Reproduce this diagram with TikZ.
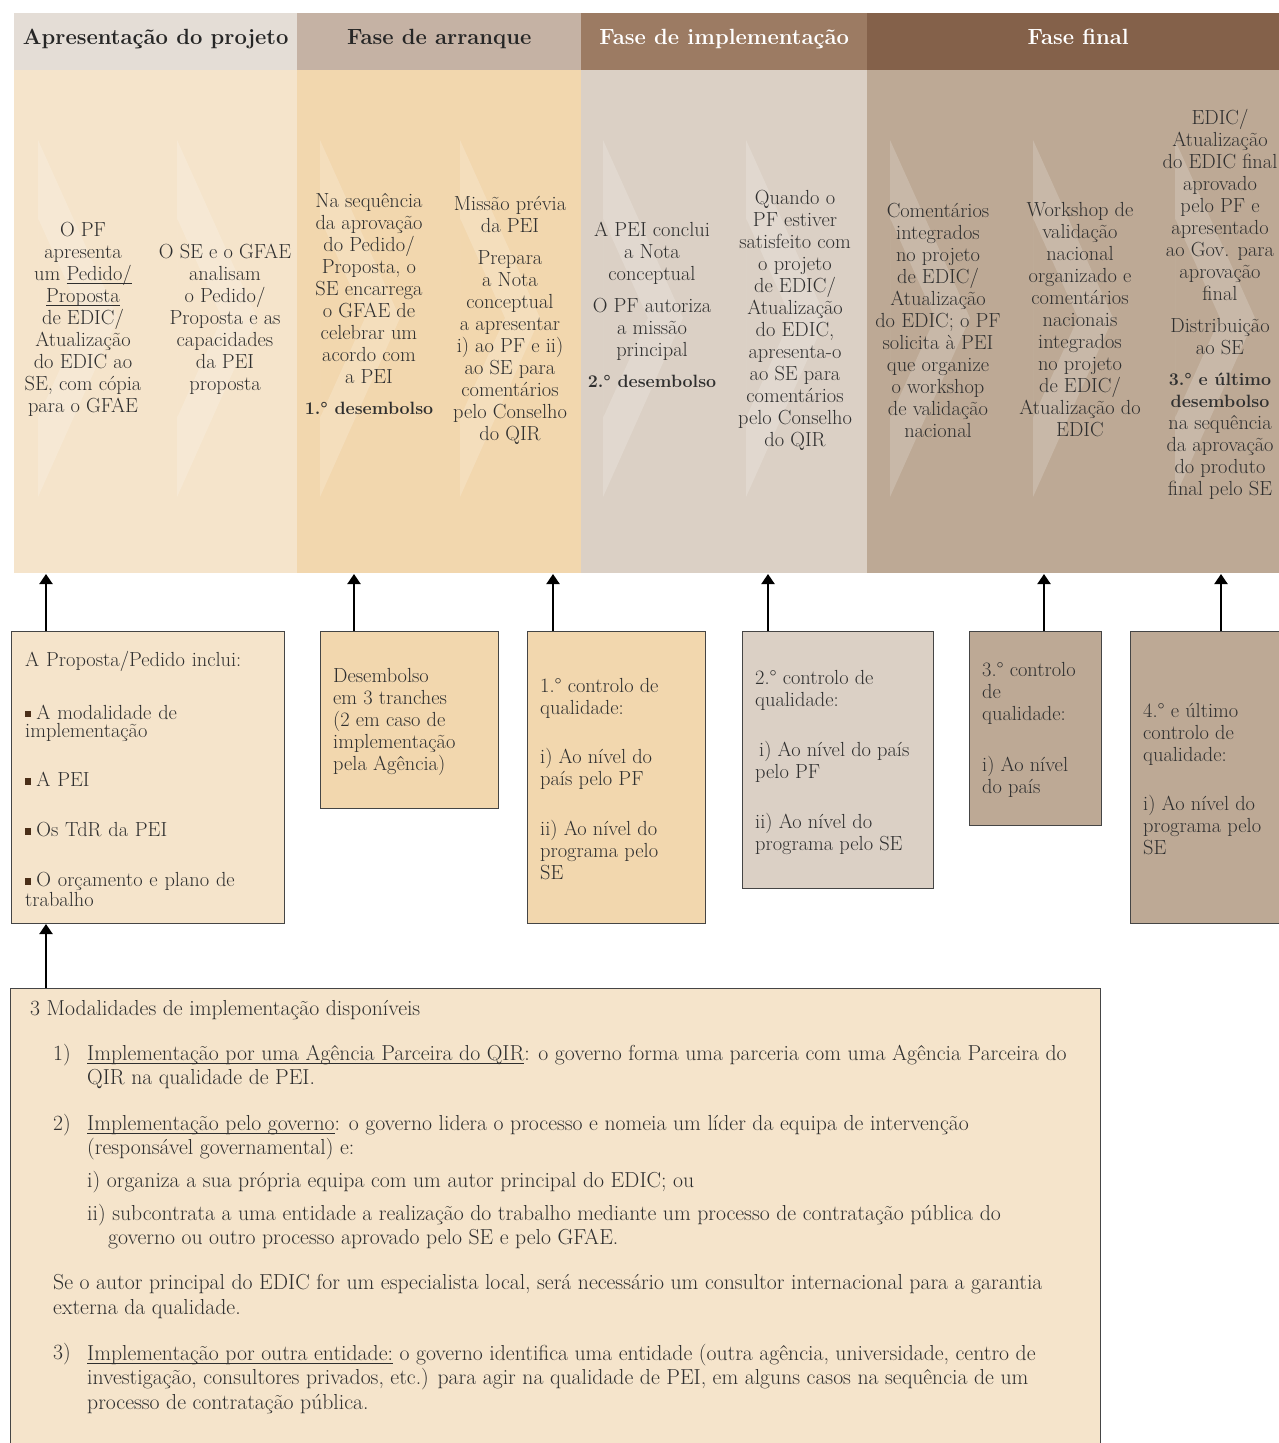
\documentclass[tikz,border=0pt]{standalone}
\usetikzlibrary{arrows.meta}
\definecolor{hA}{HTML}{E4DDD6}
\definecolor{hB}{HTML}{C5B2A4}
\definecolor{hC}{HTML}{9C7B63}
\definecolor{hD}{HTML}{84614A}
\definecolor{pA}{HTML}{F5E4CB}
\definecolor{pB}{HTML}{F2D7AE}
\definecolor{pC}{HTML}{DBD0C5}
\definecolor{pD}{HTML}{BDA995}
\definecolor{tx}{HTML}{2F2F2F}
\definecolor{hdk}{HTML}{262626}
\definecolor{bord}{HTML}{454545}
\definecolor{bul}{HTML}{4A2E18}
\newcommand{\bulsq}{\textcolor{bul}{\rule[0.12em]{0.3em}{0.3em}}\hspace{0.25em}}
\newcommand{\myul}[1]{\begingroup\setbox0\hbox{#1}\rlap{\rule[-3.5pt]{\wd0}{0.9pt}}\box0\endgroup}
\newcommand{\bd}[1]{{\fontsize{17.8}{22}\selectfont\bfseries #1}}
\begin{document}
\begin{tikzpicture}[x=1pt,y=-1pt,
  hdr/.style={anchor=north west,minimum height=57pt,inner sep=0pt,text height=0.72em,text depth=0.22em,font=\fontsize{22}{26}\selectfont\bfseries},
  ptxt/.style={align=center,inner sep=0pt,text=tx,font=\fontsize{20.4}{22}\selectfont},
  bx/.style={draw=bord,line width=1.3pt,anchor=north west,inner sep=0pt},
  btxt/.style={align=left,anchor=west,inner sep=0pt,text=tx,font=\fontsize{20.4}{22}\selectfont},
  ltxt/.style={align=left,anchor=west,inner sep=0pt,text=tx,font=\fontsize{21.7}{24.7}\selectfont},
  arr/.style={line width=2pt,draw=black,-{Triangle[width=13pt,length=10pt]}}]
\clip (0,0) rectangle (1279,1443);
\fill[white] (0,0) rectangle (1279,1443);
% headers
\node[hdr,fill=hA,minimum width=283pt,text=hdk] (hd1) at (14,13) {Apresentação do projeto};
\node[hdr,fill=hB,minimum width=284pt,text=hdk] (hd2) at (297,13) {Fase de arranque};
\node[hdr,fill=hC,minimum width=286pt,text=white] (hd3) at (581,13) {Fase de implementação};
\node[hdr,fill=hD,minimum width=422pt,text=white] (hd4) at (867,13) {Fase final};
% panels
\fill[pA] (14,70) rectangle (297,573);
\fill[pB] (297,70) rectangle (581,573);
\fill[pC] (581,70) rectangle (867,573);
\fill[pD] (867,70) rectangle (1279,573);
% chevrons
\foreach \cx in {38,177,320,460,603,746,890,1033,1175}{
  \fill[white,opacity=0.18,even odd rule] (\cx,140)--(\cx+80,318)--(\cx,497)--cycle (\cx,218)--(\cx+45,318)--(\cx,418)--cycle;
}
% panel texts
\node[ptxt] (c1) at (83,319) {O PF\\apresenta\\um \myul{Pedido/}\\\myul{Proposta}\\de EDIC/\\Atualização\\do EDIC ao\\SE, com cópia\\para o GFAE};
\node[ptxt] (c2) at (225,319) {O SE e o GFAE\\analisam\\o Pedido/\\Proposta e as\\capacidades\\da PEI\\proposta};
\node[ptxt] (c3) at (369,304) {Na sequência\\da aprovação\\do Pedido/\\Proposta, o\\SE encarrega\\o GFAE de\\celebrar um\\acordo com\\a PEI\\[9pt]\bd{1.° desembolso}};
\node[ptxt] (c4) at (510,320) {Missão prévia\\da PEI\\[10pt]Prepara\\a Nota\\conceptual\\a apresentar\\i) ao PF e ii)\\ao SE para\\comentários\\pelo Conselho\\do QIR};
\node[ptxt] (c5) at (652,304.5) {A PEI conclui\\a Nota\\conceptual\\[10pt]O PF autoriza\\a missão\\principal\\[9pt]\bd{2.° desembolso}};
\node[ptxt] (c6) at (795,320) {Quando o\\PF estiver\\satisfeito com\\o projeto\\de EDIC/\\Atualização\\do EDIC,\\apresenta-o\\ao SE para\\comentários\\pelo Conselho\\do QIR};
\node[ptxt] (c7) at (938,320) {Comentários\\integrados\\no projeto\\de EDIC/\\Atualização\\do EDIC; o PF\\solicita à PEI\\que organize\\o workshop\\de validação\\nacional};
\node[ptxt] (c8) at (1080,320) {Workshop de\\validação\\nacional\\organizado e\\comentários\\nacionais\\integrados\\no projeto\\de EDIC/\\Atualização do\\EDIC};
\node[ptxt] (c9) at (1220,304.5) {EDIC/\\Atualização\\do EDIC final\\aprovado\\pelo PF e\\apresentado\\ao Gov. para\\aprovação\\final\\[10pt]Distribuição\\ao SE\\[9pt]\bd{3.° e último}\\\bd{desembolso}\\na sequência\\da aprovação\\do produto\\final pelo SE};
% arrow targets
\coordinate (t1) at (46,574);
\coordinate (t2) at (354,574);
\coordinate (t3) at (553,574);
\coordinate (t4) at (768,574);
\coordinate (t5) at (1044,574);
\coordinate (t6) at (1221,574);
\coordinate (t7) at (46,924);
% boxes
\node[bx,fill=pA,minimum width=273pt,minimum height=292pt] (bA) at (11,631) {};
\node[bx,fill=pB,minimum width=178pt,minimum height=177pt] (bB) at (320,631) {};
\node[bx,fill=pB,minimum width=178pt,minimum height=292pt] (bC) at (527,631) {};
\node[bx,fill=pC,minimum width=191pt,minimum height=257pt] (bD) at (742,631) {};
\node[bx,fill=pD,minimum width=132pt,minimum height=194pt] (bE) at (969,631) {};
\node[bx,fill=pD,minimum width=160pt,minimum height=292pt] (bF) at (1130,631) {};
\node[bx,fill=pA,minimum width=1090pt,minimum height=480pt] (bM) at (10,988) {};
% box texts
\node[btxt,text width=250pt,font=\fontsize{20.4}{18}\selectfont] (tA) at (25,779) {A Proposta/Pedido inclui:\\[32pt]\bulsq A modalidade de\\implementação\\[30pt]\bulsq A PEI\\[32pt]\bulsq Os TdR da PEI\\[32pt]\bulsq O orçamento e plano de\\trabalho};
\node[btxt] (tB) at (333,721.5) {Desembolso\\em 3 tranches\\(2 em caso de\\implementação\\pela Agência)};
\node[btxt] (tC) at (540,779.5) {1.° controlo de\\qualidade:\\[27pt]i) Ao nível do\\país pelo PF\\[28pt]ii) Ao nível do\\programa pelo\\SE};
\node[btxt] (tD) at (755,762) {2.° controlo de\\qualidade:\\[28pt]\hspace{4pt}i) Ao nível do país\\pelo PF\\[28pt]ii) Ao nível do\\programa pelo SE};
\node[btxt] (tE) at (982,729.5) {3.° controlo\\de\\qualidade:\\[29pt]i) Ao nível\\do país};
\node[btxt] (tF) at (1143,779.5) {4.° e último\\controlo de\\qualidade:\\[27pt]i) Ao nível do\\programa pelo\\SE};
% bottom box texts
\node[ltxt] (m0) at (30,1010) {3 Modalidades de implementação disponíveis};
\node[ltxt] (n1) at (53,1055) {1)};
\node[ltxt] (m1) at (87,1067) {\myul{Implementação por uma Agência Parceira do QIR}: o governo forma uma parceria com uma Agência Parceira do\\QIR na qualidade de PEI.};
\node[ltxt] (n2) at (53,1125) {2)};
\node[ltxt] (m2) at (87,1137.5) {\myul{Implementação pelo governo}: o governo lidera o processo e nomeia um líder da equipa de intervenção\\(responsável governamental) e:};
\node[ltxt] (m3) at (87,1182) {i) organiza a sua própria equipa com um autor principal do EDIC; ou};
\node[ltxt] (m4) at (87,1226.5) {ii) subcontrata a uma entidade a realização do trabalho mediante um processo de contratação pública do\\\hspace*{21pt}governo ou outro processo aprovado pelo SE e pelo GFAE.};
\node[ltxt] (m5) at (53,1296.5) {Se o autor principal do EDIC for um especialista local, será necessário um consultor internacional para a garantia\\externa da qualidade.};
\node[ltxt] (n3) at (53,1354) {3)};
\node[ltxt] (m6) at (87,1379) {\myul{Implementação por outra entidade:} o governo identifica uma entidade (outra agência, universidade, centro de\\investigação, consultores privados, etc.) para agir na qualidade de PEI, em alguns casos na sequência de um\\processo de contratação pública.};
% arrows
\draw[arr] (t1 |- bA.north) -- (t1);
\draw[arr] (t2 |- bB.north) -- (t2);
\draw[arr] (t3 |- bC.north) -- (t3);
\draw[arr] (t4 |- bD.north) -- (t4);
\draw[arr] (t5 |- bE.north) -- (t5);
\draw[arr] (t6 |- bF.north) -- (t6);
\draw[arr] (t7 |- bM.north) -- (t7);
\end{tikzpicture}
\end{document}
